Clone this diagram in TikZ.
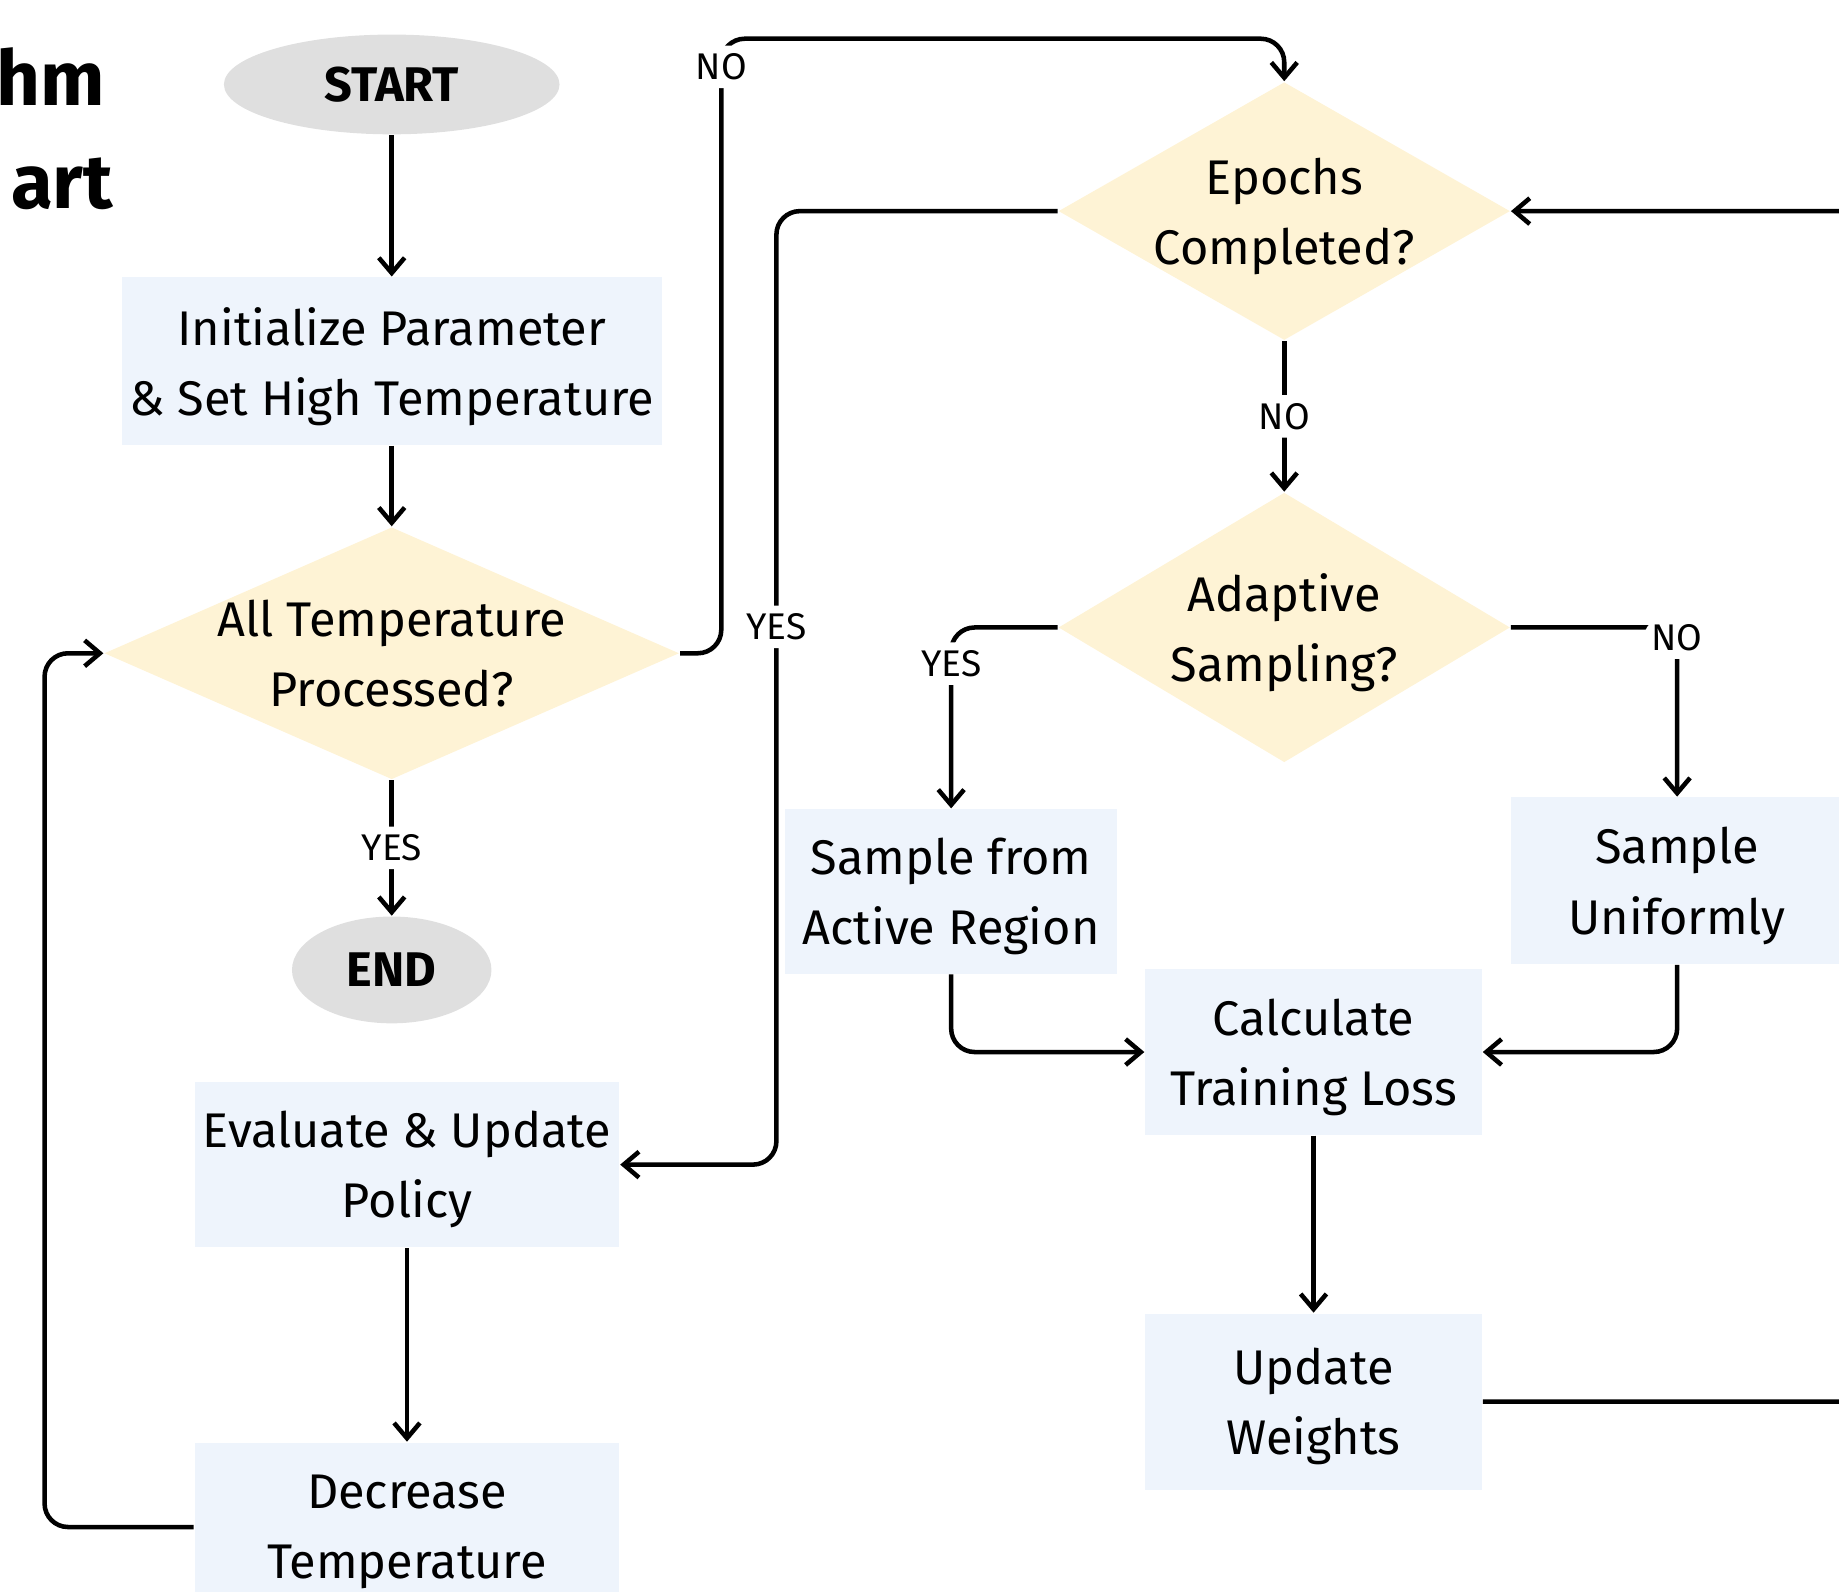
\documentclass[tikz,border=0pt]{standalone}
\usepackage{fontspec}
\setmainfont{Fira Sans}
\usepackage{xcolor}
\usetikzlibrary{arrows.meta,shapes.geometric}
\definecolor{stepfill}{HTML}{EEF4FC}
\definecolor{askfill}{HTML}{FEF3D5}
\definecolor{termfill}{HTML}{DFDFDF}

\begin{document}
\begin{tikzpicture}[x=0.01cm, y=-0.01cm,
  every node/.style={font=\fontsize{11.8}{17}\selectfont, align=center, text depth=0pt},
  stepbox/.style={fill=stepfill, inner sep=0pt},
  askbox/.style={diamond, fill=askfill, inner sep=0pt},
  termbox/.style={ellipse, fill=termfill, inner sep=0pt, font=\fontsize{11.8}{17}\selectfont\bfseries},
  yn/.style={fill=white, inner sep=2pt, font=\fontsize{9}{10}\selectfont},
  flow/.style={-{Straight Barb[length=1.3mm,width=2.2mm]}, line width=1.1pt, rounded corners=2mm}]
  \useasboundingbox (0,0) rectangle (1568,1357);
  % title, cut at the left edge
  \node[anchor=base east, inner sep=0pt, font=\fontsize{18.5}{20}\selectfont\bfseries] (ttlA) at (90,90) {hm};
  \node[anchor=base east, inner sep=0pt, font=\fontsize{18.5}{20}\selectfont\bfseries] (ttlB) at (97,178) {art};
  % outer loop
  \node[termbox, minimum width=2.86cm, minimum height=0.85cm] (start) at (334,72) {START};
  \node[stepbox, minimum width=4.6cm, minimum height=1.43cm] (init) at (334,308) {Initialize Parameter\\\& Set High Temperature};
  \node[askbox, minimum width=4.9cm, minimum height=2.15cm, label={[name=alltempq]center:All Temperature\\Processed?}] (alltemp) at (334,557) {};
  \node[termbox, minimum width=1.7cm, minimum height=0.91cm] (end) at (334,827) {END};
  \node[stepbox, minimum width=3.62cm, minimum height=1.41cm] (evalpol) at (347,993) {Evaluate \& Update\\Policy};
  \node[stepbox, minimum width=3.62cm, minimum height=1.44cm] (dectemp) at (347,1302) {Decrease\\Temperature};
  % inner loop
  \node[askbox, minimum width=3.85cm, minimum height=2.2cm, label={[name=epochsq]center:Epochs\\Completed?}] (epochs) at (1095,180) {};
  \node[askbox, minimum width=3.85cm, minimum height=2.3cm, label={[name=adaptq]center:Adaptive\\Sampling?}] (adapt) at (1095,535) {};
  \node[stepbox, minimum width=2.83cm, minimum height=1.4cm] (sampact) at (811,760) {Sample from\\Active Region};
  \node[stepbox, minimum width=2.84cm, minimum height=1.42cm] (sampuni) at (1430,751) {Sample\\Uniformly};
  \node[stepbox, minimum width=2.87cm, minimum height=1.41cm] (calc) at (1120,897) {Calculate\\Training Loss};
  \node[stepbox, minimum width=2.87cm, minimum height=1.5cm] (updw) at (1120,1195) {Update\\Weights};

  \draw[flow] (start) -- (init);
  \draw[flow] (init) -- (alltemp);
  \draw[flow] (alltemp) -- node[yn]{YES} (end);
  \draw[flow] (alltemp.east) -| node[yn,pos=0.977]{NO} (615,33) -| (epochs.north);
  \draw[flow] (epochs.west) -| node[yn,pos=0.718]{YES} (662,993) -- (evalpol.east);
  \draw[flow] (epochs) -- node[yn]{NO} (adapt);
  \draw[flow] (adapt.west) -| node[yn,pos=0.6]{YES} (sampact.north);
  \draw[flow] (adapt.east) -| node[yn,pos=0.53]{NO} (sampuni.north);
  \draw[flow] (sampact.south) |- (calc.west);
  \draw[flow] (sampuni.south) |- (calc.east);
  \draw[flow] (calc) -- (updw);
  \draw[flow] (updw.east) -| (1640,180) -- (epochs.east);
  \draw[flow] (evalpol) -- (dectemp);
  \draw[flow] (dectemp.west) -| (38,557) -- (alltemp.west);
\end{tikzpicture}
\end{document}
